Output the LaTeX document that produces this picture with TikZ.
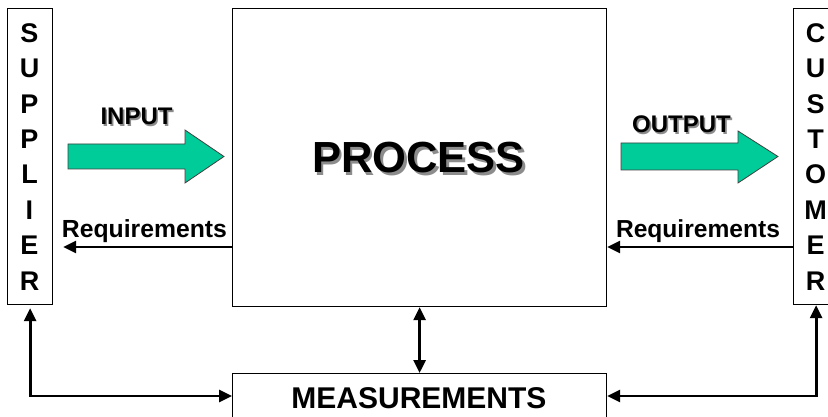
\documentclass[tikz,border=0pt]{standalone}
\usepackage{fontspec}
\setmainfont{Liberation Sans}
\usepackage{graphicx}
\usetikzlibrary{arrows.meta}

\definecolor{flowgreen}{RGB}{0,204,153}
\definecolor{shadowgray}{RGB}{140,140,140}

% text with a soft grey drop shadow behind it
\newcommand{\castshadow}[1]{\rlap{\kern1.6pt\raisebox{-1.6pt}{\color{shadowgray}#1}}#1}

\begin{document}
\begin{tikzpicture}[x=1pt,y=-1pt,
  >={Triangle[length=13pt,width=12pt]},
  box/.style={draw=black, line width=1.2pt, fill=white, inner sep=0pt, anchor=north west},
  letter/.style={font=\bfseries\fontsize{27}{27}\selectfont, inner sep=0pt},
  lbl/.style={font=\bfseries\fontsize{24}{24}\selectfont, inner sep=0pt, anchor=base},
  blockarrow/.style={fill=flowgreen, draw=black!75, line width=0.8pt, line join=miter},
  conn/.style={line width=2.8pt, ->},
  biconn/.style={line width=2.8pt, <->}
]
\useasboundingbox (0,0) rectangle (828,417);
\clip (0,0) rectangle (828,417);

% boxes
\node[box, minimum width=45pt, minimum height=296pt] (sup) at (7,8) {};
\node[box, minimum width=374pt, minimum height=298pt] (proc) at (232,8) {};
\node[box, minimum width=45pt, minimum height=296pt] (cust) at (793,8) {};
\node[box, minimum width=374pt, minimum height=60pt] (meas) at (232,373) {};

% vertical lettering
\foreach \ch [count=\i from 0] in {S,U,P,P,L,I,E,R}
  \node[letter] (sup-\i) at (29.5,33+35.4*\i) {\ch};
\foreach \ch [count=\i from 0] in {C,U,S,T,O,M,E,R}
  \node[letter] (cust-\i) at (815.5,33+35.4*\i) {\ch};

% main labels
\node[lbl] (proclbl) at (418.5,173)
  {\resizebox{213pt}{!}{\castshadow{PROCESS}}};
\node[lbl, font=\bfseries\fontsize{30}{30}\selectfont] (measlbl) at (419,408)
  {MEASUREMENTS};

% block arrows
\draw[blockarrow] (68,144) -- (185,144) -- (185,130) -- (224,156.5)
  -- (185,183) -- (185,169) -- (68,169) -- cycle;
\draw[blockarrow] (621,143) -- (738,143) -- (738,131) -- (778,156.5)
  -- (738,183) -- (738,170) -- (621,170) -- cycle;
\node[lbl] (inlbl) at (136.5,125) {\castshadow{INPUT}};
\node[lbl] (outlbl) at (681.5,133) {\castshadow{OUTPUT}};

% requirement flows
\node[lbl] (reqleft) at (144.5,237) {\resizebox{165pt}{!}{Requirements}};
\node[lbl] (reqright) at (698,237) {\resizebox{164pt}{!}{Requirements}};
\coordinate (reqrow) at (0,247);
\coordinate (lowrow) at (0,396);
\draw[conn] (proc.west |- reqrow) -- ([xshift=10pt]sup.east |- reqrow);
\draw[conn] (cust.west |- reqrow) -- (proc.east |- reqrow);

% measurement links
\draw[biconn] (proc.south) -- (meas.north);
\draw[biconn, shorten <=3pt] (sup.south) |- (meas.west |- lowrow);
\draw[biconn] (cust.south) |- (meas.east |- lowrow);
\end{tikzpicture}
\end{document}
